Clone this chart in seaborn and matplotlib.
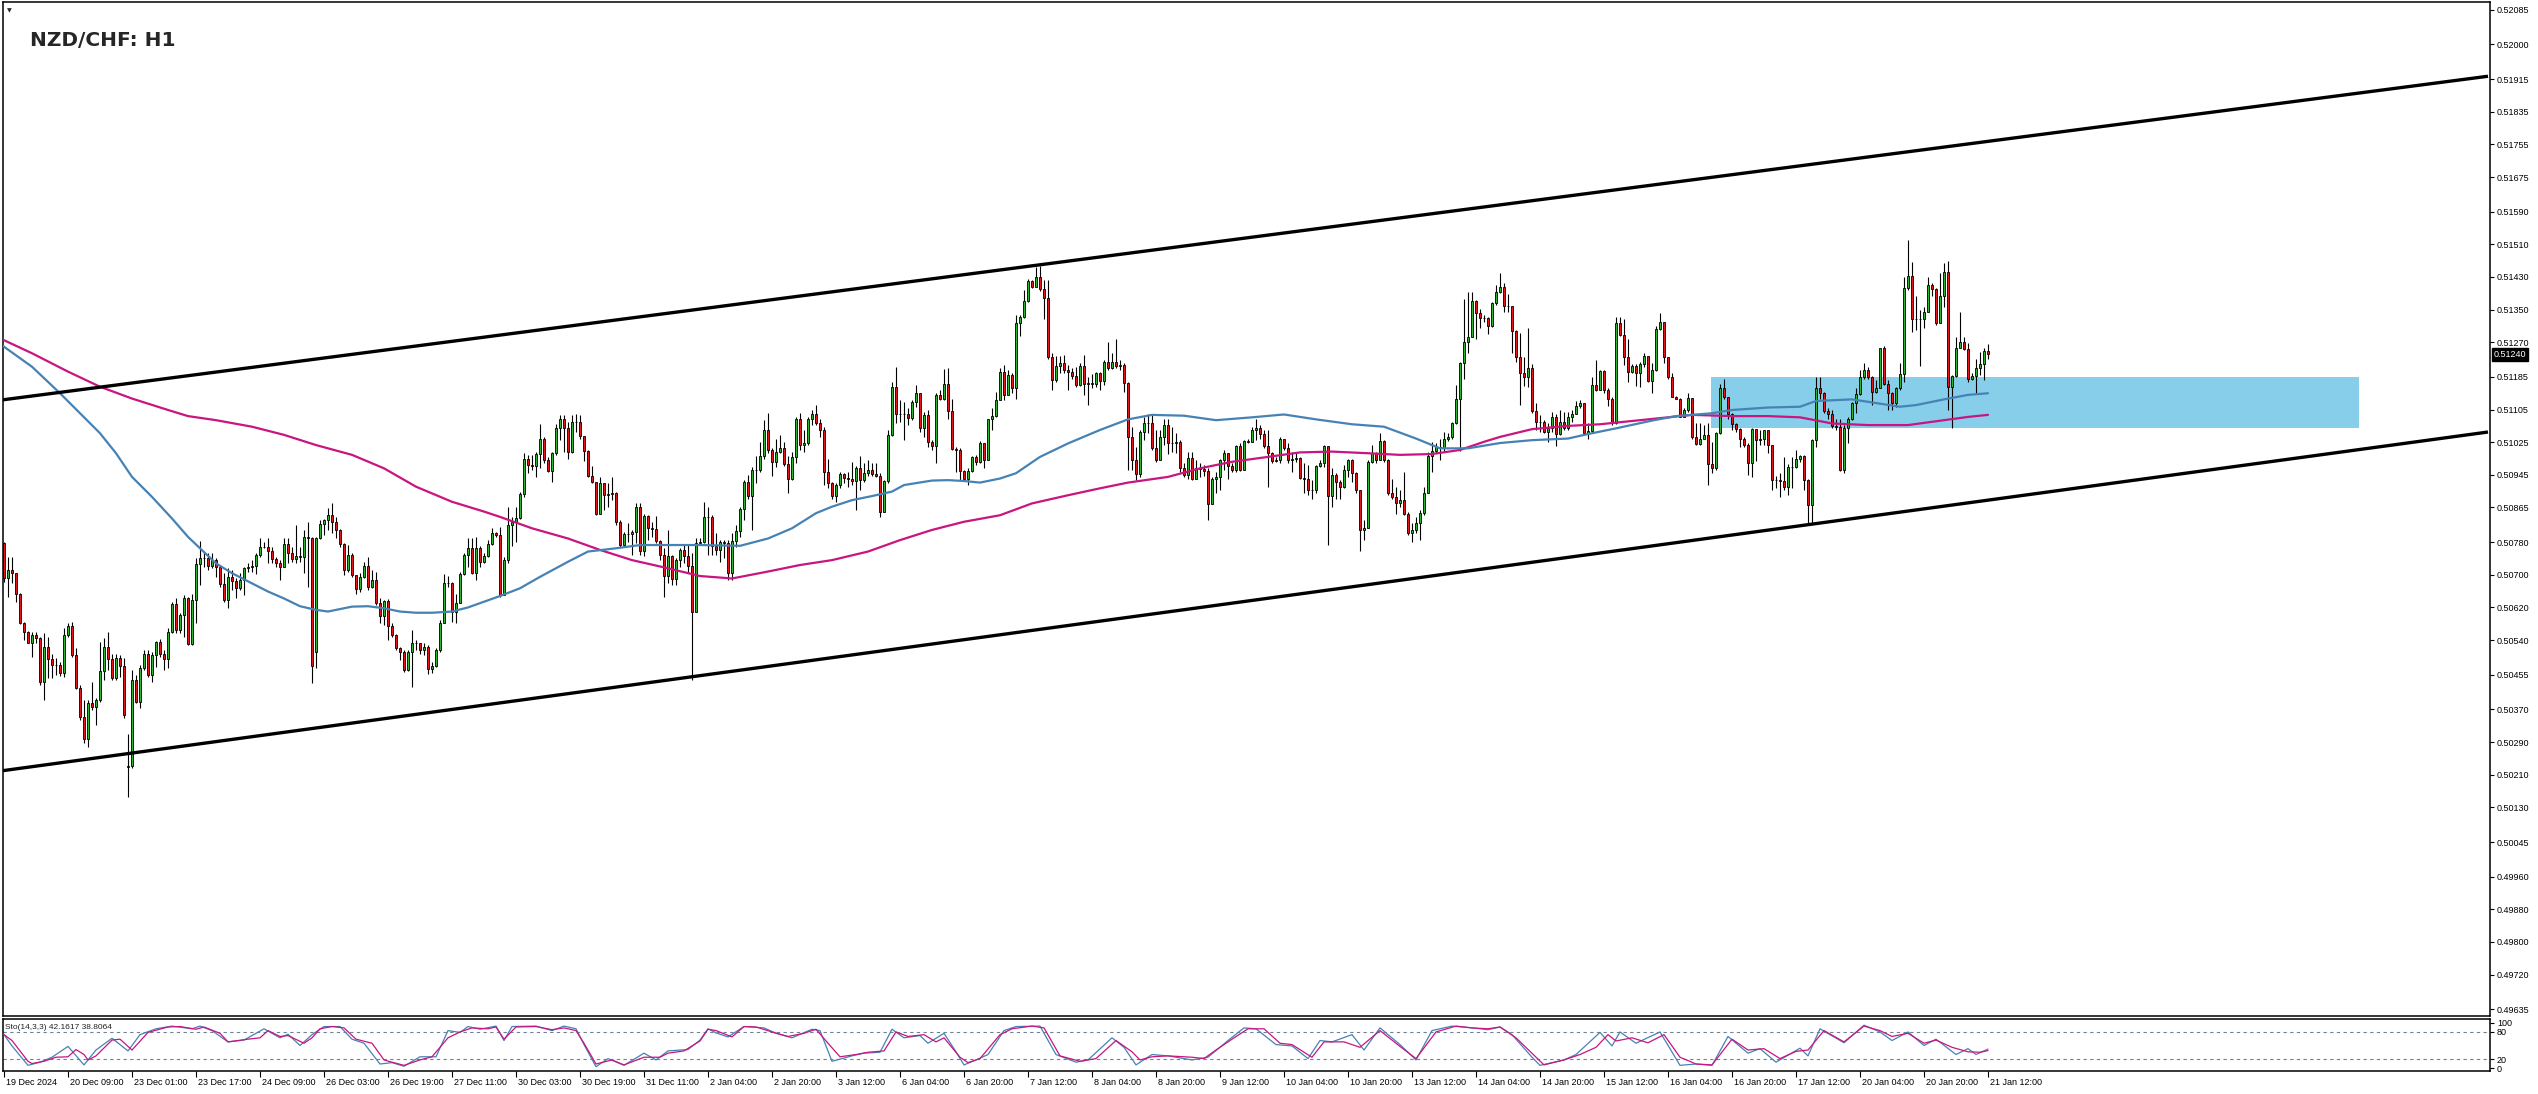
"""
NZD/CHF H1 chart: candles, two moving averages, price channel, demand zone
and a stochastic oscillator pane underneath.
"""

import numpy as np
import matplotlib
matplotlib.use("Agg")
import matplotlib.pyplot as plt
import matplotlib.transforms as mtransforms
from matplotlib.patches import Rectangle
import seaborn as sns

# ---------------------------------------------------------------- data
# prices are in units of 0.00001 (pipettes)
first_open = 50777
open_gaps = {31: 50230, 78: 50510}

closes = [
    50691, 50712, 50704, 50654, 50583, 50561, 50534, 50552, 50544, 50438,
    50524, 50493, 50480, 50479, 50460, 50552, 50574, 50503, 50423, 50352,
    50297, 50387, 50375, 50393, 50464, 50524, 50493, 50448, 50495, 50477,
    50356, 50232, 50442, 50389, 50472, 50505, 50454, 50503, 50536, 50505,
    50493, 50559, 50628, 50565, 50601, 50642, 50530, 50638, 50726, 50742,
    50742, 50722, 50736, 50720, 50677, 50638, 50694, 50686, 50667, 50687,
    50716, 50720, 50722, 50748, 50769, 50769, 50759, 50738, 50728, 50720,
    50775, 50753, 50738, 50746, 50744, 50792, 50790, 50477, 50789, 50824,
    50834, 50847, 50830, 50811, 50775, 50712, 50748, 50699, 50664, 50695,
    50722, 50671, 50687, 50630, 50599, 50636, 50574, 50552, 50520, 50512,
    50467, 50512, 50532, 50532, 50516, 50524, 50468, 50477, 50516, 50583,
    50679, 50679, 50610, 50632, 50701, 50748, 50765, 50704, 50765, 50732,
    50746, 50775, 50802, 50798, 50650, 50736, 50822, 50830, 50840, 50897,
    50983, 50969, 50967, 50995, 51034, 50981, 50954, 50998, 51061, 51083,
    51061, 51002, 51075, 51075, 51041, 51004, 50942, 50927, 50848, 50924,
    50896, 50898, 50900, 50830, 50773, 50799, 50799, 50806, 50865, 50759,
    50845, 50814, 50813, 50783, 50748, 50697, 50746, 50689, 50736, 50761,
    50747, 50722, 50610, 50779, 50780, 50842, 50842, 50771, 50762, 50780,
    50777, 50704, 50783, 50807, 50861, 50928, 50894, 50957, 50958, 50990,
    51055, 51006, 50976, 51002, 51010, 50971, 50934, 50988, 51081, 51018,
    51024, 51081, 51093, 51071, 51055, 50953, 50924, 50892, 50920, 50946,
    50938, 50936, 50931, 50963, 50932, 50950, 50957, 50947, 50942, 50855,
    50931, 51043, 51161, 51093, 51094, 51094, 51085, 51123, 51145, 51061,
    51092, 51026, 51016, 51141, 51132, 51167, 51102, 51008, 51007, 50954,
    50934, 50954, 50988, 50977, 51022, 50981, 51081, 51089, 51128, 51196,
    51141, 51190, 51159, 51316, 51331, 51372, 51420, 51406, 51429, 51400,
    51378, 51235, 51177, 51212, 51218, 51203, 51198, 51187, 51165, 51212,
    51168, 51169, 51167, 51194, 51175, 51221, 51208, 51221, 51212, 51214,
    51171, 51038, 50981, 50947, 51049, 51073, 51071, 51010, 50981, 51038,
    51067, 51022, 51022, 51026, 50961, 50945, 50987, 50936, 50961, 50960,
    50955, 50873, 50936, 50939, 50981, 50999, 50967, 50957, 51016, 50958,
    51028, 51026, 51055, 51061, 51045, 51016, 50998, 50979, 50981, 51032,
    51012, 50981, 50985, 50987, 50938, 50936, 50909, 50909, 50967, 50973,
    51016, 50893, 50945, 50928, 50914, 50957, 50981, 50950, 50908, 50810,
    50814, 50976, 50999, 50981, 51029, 50981, 50900, 50891, 50875, 50883,
    50849, 50803, 50810, 50826, 50851, 50900, 50991, 51004, 51014, 51012,
    51032, 51037, 51071, 51132, 51218, 51271, 51284, 51372, 51341, 51329,
    51329, 51310, 51365, 51392, 51406, 51359, 51359, 51298, 51235, 51195,
    51185, 51208, 51101, 51075, 51074, 51051, 51059, 51086, 51045, 51074,
    51059, 51086, 51094, 51114, 51122, 51048, 51053, 51165, 51154, 51199,
    51153, 51132, 51071, 51316, 51288, 51233, 51198, 51213, 51195, 51216,
    51237, 51175, 51202, 51302, 51319, 51235, 51184, 51137, 51132, 51087,
    51104, 51134, 51037, 51020, 51034, 51043, 50971, 50962, 51047, 51157,
    51135, 51093, 51069, 51057, 51034, 51018, 50973, 51057, 51030, 51032,
    51055, 51018, 50932, 50932, 50931, 50914, 50965, 50965, 50983, 50992,
    50932, 50871, 51030, 51159, 51145, 51102, 51094, 51065, 51063, 50957,
    51061, 51081, 51120, 51142, 51184, 51203, 51185, 51149, 51159, 51255,
    51167, 51146, 51120, 51157, 51192, 51404, 51432, 51328, 51326, 51328,
    51343, 51410, 51400, 51318, 51383, 51441, 51161, 51188, 51257, 51270,
    51253, 51181, 51187, 51206, 51216, 51248, 51240,
]

highs = [
    50781, 50744, 50744, 50697, 50656, 50585, 50562, 50561, 50561, 50548,
    50558, 50548, 50507, 50495, 50487, 50569, 50581, 50585, 50520, 50430,
    50393, 50393, 50438, 50397, 50536, 50544, 50561, 50507, 50507, 50503,
    50495, 50311, 50467, 50454, 50479, 50516, 50516, 50512, 50538, 50542,
    50516, 50569, 50634, 50642, 50606, 50650, 50646, 50654, 50740, 50784,
    50757, 50753, 50753, 50740, 50724, 50704, 50716, 50712, 50691, 50704,
    50720, 50728, 50736, 50753, 50789, 50781, 50789, 50769, 50744, 50736,
    50789, 50789, 50769, 50822, 50769, 50810, 50830, 50792, 50792, 50834,
    50838, 50863, 50875, 50842, 50813, 50777, 50773, 50753, 50699, 50704,
    50732, 50743, 50712, 50708, 50642, 50638, 50640, 50581, 50556, 50524,
    50516, 50516, 50565, 50540, 50534, 50532, 50528, 50487, 50520, 50589,
    50702, 50697, 50683, 50654, 50708, 50753, 50789, 50789, 50793, 50770,
    50753, 50785, 50814, 50806, 50818, 50744, 50867, 50842, 50867, 50904,
    50998, 50994, 50994, 51002, 51070, 51039, 50988, 51002, 51070, 51092,
    51092, 51075, 51092, 51093, 51092, 51039, 51007, 50967, 50928, 50940,
    50920, 50924, 50940, 50904, 50834, 50806, 50826, 50810, 50875, 50875,
    50849, 50847, 50830, 50843, 50785, 50765, 50810, 50748, 50740, 50765,
    50773, 50773, 50753, 50789, 50789, 50879, 50867, 50847, 50802, 50785,
    50785, 50785, 50802, 50822, 50867, 50932, 50945, 50965, 50990, 51026,
    51079, 51096, 51010, 51034, 51043, 51026, 50990, 51002, 51088, 51096,
    51055, 51088, 51104, 51116, 51083, 51063, 50985, 50928, 50924, 50953,
    50950, 50953, 50977, 50967, 50990, 50973, 50981, 50973, 50973, 50949,
    50932, 51055, 51173, 51210, 51128, 51124, 51108, 51128, 51165, 51145,
    51100, 51104, 51030, 51146, 51153, 51204, 51206, 51130, 51014, 51010,
    50957, 50961, 50991, 50994, 51029, 51024, 51083, 51110, 51149, 51208,
    51214, 51202, 51195, 51337, 51337, 51398, 51424, 51422, 51455, 51457,
    51422, 51422, 51243, 51236, 51236, 51239, 51214, 51206, 51210, 51218,
    51239, 51185, 51192, 51198, 51198, 51226, 51271, 51243, 51279, 51226,
    51220, 51173, 51063, 51014, 51055, 51087, 51094, 51094, 51055, 51055,
    51083, 51083, 51063, 51047, 51030, 50973, 51002, 51002, 50981, 50973,
    50969, 50961, 50940, 50953, 50983, 51006, 50999, 50973, 51018, 51022,
    51030, 51032, 51063, 51081, 51067, 51055, 51055, 51000, 50989, 51037,
    51034, 51022, 51002, 50998, 50989, 50973, 50969, 50932, 50969, 50981,
    51018, 51014, 50961, 50949, 50932, 50969, 50983, 50983, 50953, 50908,
    50834, 50981, 51018, 51002, 51047, 51030, 50983, 50936, 50916, 50908,
    50953, 50855, 50826, 50842, 50860, 50916, 51000, 51026, 51022, 51034,
    51051, 51047, 51075, 51165, 51222, 51375, 51394, 51394, 51373, 51351,
    51337, 51333, 51369, 51410, 51439, 51416, 51388, 51359, 51300, 51293,
    51235, 51304, 51217, 51120, 51092, 51079, 51071, 51100, 51094, 51104,
    51100, 51100, 51104, 51127, 51128, 51122, 51071, 51186, 51226, 51202,
    51203, 51157, 51135, 51333, 51331, 51328, 51279, 51217, 51217, 51222,
    51243, 51237, 51218, 51310, 51341, 51320, 51235, 51194, 51138, 51134,
    51108, 51145, 51132, 51071, 51071, 51067, 51071, 51026, 51051, 51167,
    51179, 51137, 51097, 51071, 51059, 51038, 51022, 51059, 51055, 51055,
    51056, 51056, 51018, 50942, 50949, 50988, 50971, 50988, 51007, 50994,
    50994, 50934, 51032, 51185, 51185, 51149, 51108, 51104, 51083, 51083,
    51067, 51086, 51124, 51157, 51203, 51218, 51210, 51187, 51177, 51257,
    51261, 51177, 51149, 51161, 51220, 51431, 51520, 51467, 51383, 51349,
    51357, 51431, 51416, 51402, 51440, 51465, 51470, 51190, 51284, 51345,
    51284, 51269, 51194, 51230, 51247, 51257, 51265,
]

lows = [
    50683, 50646, 50679, 50634, 50579, 50540, 50532, 50499, 50532, 50430,
    50393, 50446, 50446, 50454, 50452, 50450, 50548, 50499, 50419, 50344,
    50287, 50277, 50369, 50332, 50389, 50442, 50467, 50442, 50442, 50450,
    50348, 50155, 50226, 50385, 50373, 50467, 50450, 50438, 50475, 50499,
    50467, 50471, 50557, 50557, 50557, 50548, 50528, 50528, 50583, 50675,
    50720, 50712, 50716, 50695, 50671, 50634, 50618, 50663, 50642, 50663,
    50650, 50708, 50708, 50702, 50744, 50765, 50728, 50728, 50720, 50687,
    50720, 50728, 50732, 50728, 50732, 50704, 50671, 50434, 50471, 50787,
    50797, 50810, 50802, 50789, 50769, 50699, 50708, 50695, 50654, 50659,
    50691, 50663, 50667, 50626, 50581, 50577, 50540, 50547, 50516, 50491,
    50462, 50465, 50426, 50516, 50507, 50503, 50458, 50460, 50475, 50512,
    50585, 50671, 50585, 50583, 50650, 50699, 50720, 50702, 50687, 50720,
    50728, 50744, 50773, 50793, 50646, 50650, 50728, 50771, 50781, 50838,
    50891, 50949, 50957, 50940, 50961, 50973, 50953, 50928, 50994, 51030,
    51002, 50985, 50998, 51051, 51034, 50980, 50940, 50924, 50847, 50875,
    50859, 50867, 50883, 50822, 50769, 50773, 50781, 50748, 50777, 50748,
    50746, 50785, 50793, 50777, 50736, 50646, 50679, 50675, 50675, 50720,
    50728, 50704, 50442, 50618, 50777, 50777, 50748, 50748, 50748, 50732,
    50740, 50687, 50687, 50769, 50793, 50834, 50887, 50810, 50924, 50953,
    50985, 50998, 50942, 50965, 50998, 50967, 50900, 50932, 50973, 51006,
    51002, 51018, 51067, 51067, 51039, 50920, 50912, 50887, 50879, 50912,
    50924, 50914, 50920, 50860, 50908, 50928, 50942, 50942, 50940, 50842,
    50871, 50924, 51040, 51071, 51075, 51030, 51067, 51079, 51112, 51051,
    51039, 51014, 51006, 50973, 51128, 51128, 51083, 51006, 50953, 50932,
    50931, 50920, 50953, 50969, 50973, 50961, 50981, 51056, 51088, 51128,
    51128, 51141, 51145, 51132, 51285, 51329, 51368, 51402, 51406, 51396,
    51326, 51230, 51154, 51173, 51194, 51194, 51154, 51181, 51161, 51163,
    51141, 51116, 51157, 51161, 51153, 51165, 51202, 51204, 51206, 51202,
    51149, 50957, 50957, 50932, 50939, 51030, 51047, 51006, 50977, 50981,
    51018, 50996, 51002, 50999, 50953, 50940, 50936, 50932, 50934, 50940,
    50942, 50834, 50873, 50900, 50908, 50958, 50936, 50953, 50953, 50955,
    50957, 51022, 51043, 51030, 51032, 51010, 50914, 50973, 50977, 50975,
    51006, 50973, 50953, 50977, 50936, 50900, 50895, 50885, 50900, 50965,
    50965, 50773, 50867, 50885, 50885, 50912, 50940, 50928, 50900, 50759,
    50785, 50841, 50973, 50973, 50981, 50977, 50895, 50885, 50850, 50867,
    50846, 50797, 50781, 50802, 50785, 50846, 50900, 50953, 50999, 50981,
    51002, 51029, 51034, 51069, 51004, 51181, 51243, 51284, 51277, 51304,
    51320, 51290, 51308, 51361, 51390, 51345, 51345, 51243, 51222, 51116,
    51163, 51161, 51097, 51056, 51051, 51047, 51026, 51051, 51016, 51043,
    51055, 51055, 51075, 51094, 51110, 51047, 51032, 51048, 51151, 51153,
    51146, 51114, 51067, 51069, 51285, 51214, 51173, 51194, 51163, 51161,
    51210, 51173, 51145, 51200, 51300, 51220, 51181, 51135, 51130, 51086,
    51086, 51100, 51034, 51018, 51018, 51032, 50920, 50949, 50958, 51045,
    51130, 51083, 51055, 51051, 51014, 51014, 50945, 50940, 50980, 51018,
    51018, 50998, 50909, 50912, 50890, 50909, 50895, 50912, 50961, 50977,
    50909, 50828, 50826, 51014, 51132, 51096, 51083, 51059, 51055, 50955,
    50949, 51022, 51079, 51096, 51141, 51181, 51181, 51116, 51146, 51159,
    51165, 51104, 51104, 51112, 51154, 51173, 51398, 51296, 51300, 51212,
    51306, 51345, 51383, 51312, 51318, 51357, 51104, 51059, 51186, 51255,
    51251, 51173, 51177, 51146, 51190, 51177, 51228,
]

# moving averages, sampled as (bar, price)
ma_fast = [
    (-1, 51268), (0, 51259), (7, 51210), (14, 51145), (19, 51096), (24, 51047),
    (28, 50998), (32, 50940), (37, 50891), (42, 50838), (46, 50793), (49, 50765),
    (53, 50728), (57, 50704), (62, 50679), (66, 50659), (70, 50642), (74, 50623),
    (78, 50614), (81, 50610), (87, 50622), (91, 50623), (95, 50618), (99, 50610),
    (103, 50607), (107, 50607), (112, 50610), (116, 50620), (120, 50634),
    (124, 50648), (129, 50667), (134, 50695), (141, 50732), (146, 50757),
    (153, 50765), (159, 50773), (166, 50773), (174, 50773), (184, 50771),
    (191, 50789), (197, 50814), (203, 50851), (207, 50867), (212, 50883),
    (217, 50893), (222, 50904), (225, 50920), (232, 50931), (236, 50932),
    (240, 50930), (244, 50926), (249, 50936), (253, 50949), (259, 50989),
    (266, 51022), (274, 51055), (281, 51081), (287, 51092), (295, 51090),
    (303, 51079), (312, 51086), (320, 51093), (328, 51081), (337, 51069),
    (345, 51063), (353, 51034), (359, 51010), (366, 51010), (374, 51023),
    (382, 51030), (391, 51034), (396, 51045), (403, 51059), (412, 51078),
    (418, 51089), (427, 51096), (432, 51104), (441, 51110), (449, 51112),
    (453, 51126), (462, 51130), (466, 51124), (474, 51112), (478, 51116),
    (485, 51130), (491, 51141), (496, 51145),
]
ma_slow = [
    (-1, 51281), (0, 51275), (7, 51243), (16, 51198), (24, 51161), (32, 51132),
    (41, 51104), (46, 51089), (53, 51079), (62, 51063), (70, 51043), (78, 51018),
    (87, 50994), (95, 50961), (103, 50916), (112, 50879), (120, 50855),
    (124, 50842), (132, 50814), (141, 50789), (149, 50761), (157, 50736),
    (166, 50716), (174, 50697), (182, 50691), (191, 50708), (199, 50724),
    (207, 50736), (216, 50757), (224, 50785), (232, 50810), (240, 50830),
    (249, 50846), (257, 50875), (266, 50895), (274, 50912), (281, 50926),
    (291, 50940), (299, 50961), (307, 50977), (316, 50989), (324, 51000),
    (332, 51002), (341, 50998), (349, 50994), (357, 50996), (364, 51006),
    (370, 51026), (374, 51038), (382, 51057), (391, 51065), (399, 51069),
    (407, 51077), (416, 51086), (422, 51092), (432, 51089), (441, 51089),
    (449, 51086), (457, 51071), (466, 51067), (476, 51067), (482, 51075),
    (491, 51087), (496, 51092),
]

# stochastic (14,3,3), sampled as (bar, value)
stoch_k = [
    (0, 74), (2, 49), (6, 6), (9, 13), (12, 24), (16, 48), (20, 7), (23, 40),
    (27, 66), (31, 38), (34, 74), (38, 87), (42, 93), (47, 87), (49, 93),
    (52, 83), (56, 58), (60, 62), (65, 87), (69, 67), (71, 75), (74, 50),
    (77, 74), (80, 92), (84, 92), (87, 64), (90, 55), (94, 9), (97, 12),
    (100, 4), (104, 25), (108, 25), (111, 83), (114, 79), (116, 92), (119, 86),
    (123, 93), (125, 61), (127, 92), (133, 93), (137, 83), (140, 93), (143, 87),
    (145, 52), (148, 3), (151, 21), (155, 6), (160, 33), (163, 18), (166, 38),
    (171, 41), (174, 62), (176, 87), (178, 78), (181, 69), (185, 92), (190, 89),
    (193, 77), (197, 67), (202, 86), (204, 83), (207, 15), (212, 27), (215, 33),
    (219, 35), (222, 86), (225, 67), (229, 72), (231, 55), (235, 77), (238, 36),
    (240, 7), (243, 18), (246, 30), (250, 83), (253, 92), (259, 93), (263, 30),
    (268, 13), (271, 18), (277, 67), (280, 46), (283, 7), (287, 30), (291, 27),
    (297, 18), (301, 24), (306, 61), (310, 89), (313, 87), (318, 52), (322, 49),
    (326, 21), (329, 61), (332, 58), (337, 74), (340, 40), (344, 89), (349, 52),
    (353, 18), (357, 83), (362, 93), (367, 89), (371, 85), (374, 91), (377, 74),
    (382, 24), (384, 6), (390, 18), (393, 30), (399, 79), (402, 49), (404, 80),
    (408, 55), (414, 80), (419, 6), (423, 9), (427, 6), (431, 70), (436, 33),
    (439, 43), (443, 13), (449, 44), (451, 27), (454, 87), (460, 56), (465, 95),
    (469, 80), (472, 61), (476, 80), (480, 50), (483, 64), (488, 30), (491, 43),
    (493, 30), (496, 42.16),
]
stoch_d = [
    (0, 74), (2, 61), (6, 15), (7, 10), (10, 15), (13, 24), (16, 25), (18, 41),
    (20, 30), (21, 18), (23, 27), (27, 62), (29, 64), (32, 40), (36, 79),
    (41, 91), (44, 92), (48, 86), (50, 91), (54, 77), (56, 58), (61, 64),
    (64, 67), (66, 83), (69, 70), (71, 72), (75, 55), (77, 67), (79, 87),
    (82, 92), (85, 89), (88, 64), (92, 55), (95, 18), (97, 13), (100, 6),
    (104, 18), (107, 25), (111, 67), (114, 80), (117, 89), (121, 87), (123, 91),
    (125, 64), (128, 91), (133, 92), (137, 85), (140, 89), (143, 83), (145, 55),
    (148, 9), (152, 18), (155, 7), (160, 24), (164, 24), (166, 33), (170, 38),
    (174, 60), (176, 86), (178, 83), (182, 69), (185, 92), (188, 91), (192, 80),
    (196, 70), (200, 77), (203, 86), (206, 55), (209, 25), (213, 30), (216, 35),
    (220, 38), (223, 80), (226, 70), (230, 74), (233, 58), (235, 67), (239, 24),
    (241, 12), (244, 21), (249, 74), (252, 87), (257, 93), (260, 89), (264, 27),
    (269, 15), (273, 21), (278, 61), (282, 36), (284, 18), (287, 25), (291, 27),
    (297, 24), (300, 21), (303, 40), (307, 64), (311, 87), (315, 87), (319, 55),
    (322, 52), (327, 24), (330, 58), (335, 58), (339, 46), (344, 83), (349, 48),
    (353, 21), (358, 80), (363, 93), (367, 89), (371, 87), (374, 91), (378, 67),
    (383, 24), (385, 7), (390, 18), (394, 30), (398, 46), (401, 74), (403, 60),
    (407, 67), (411, 56), (415, 74), (419, 24), (423, 9), (427, 7), (432, 64),
    (436, 40), (440, 43), (444, 21), (448, 37), (451, 40), (455, 83), (460, 58),
    (465, 93), (469, 83), (472, 70), (476, 77), (480, 55), (483, 62), (487, 46),
    (491, 36), (494, 35), (496, 38.81),
]
stoch_levels = [20, 80]
stoch_caption = "Sto(14,3,3) 42.1617 38.8064"

# drawn objects: channel anchors (bar, price) and the blue zone
channel_upper = [(-1, 51128), (621, 51922)]
channel_lower = [(-1, 50219), (621, 51050)]
zone = {"start": 426.75, "end": 588.75, "low": 51060, "high": 51185}

current_price = "0.51240"
price_ticks = [
    "0.52085", "0.52000", "0.51915", "0.51835", "0.51755", "0.51675",
    "0.51590", "0.51510", "0.51430", "0.51350", "0.51270", "0.51185",
    "0.51105", "0.51025", "0.50945", "0.50865", "0.50780", "0.50700",
    "0.50620", "0.50540", "0.50455", "0.50370", "0.50290", "0.50210",
    "0.50130", "0.50045", "0.49960", "0.49880", "0.49800", "0.49720",
    "0.49635",
]
time_labels = [
    "19 Dec 2024", "20 Dec 09:00", "23 Dec 01:00", "23 Dec 17:00",
    "24 Dec 09:00", "26 Dec 03:00", "26 Dec 19:00", "27 Dec 11:00",
    "30 Dec 03:00", "30 Dec 19:00", "31 Dec 11:00", "2 Jan 04:00",
    "2 Jan 20:00", "3 Jan 12:00", "6 Jan 04:00", "6 Jan 20:00",
    "7 Jan 12:00", "8 Jan 04:00", "8 Jan 20:00", "9 Jan 12:00",
    "10 Jan 04:00", "10 Jan 20:00", "13 Jan 12:00", "14 Jan 04:00",
    "14 Jan 20:00", "15 Jan 12:00", "16 Jan 04:00", "16 Jan 20:00",
    "17 Jan 12:00", "20 Jan 04:00", "20 Jan 20:00", "21 Jan 12:00",
]
bars_per_label = 16

# ---------------------------------------------------------------- prep
PIP = 1e-5
c = np.array(closes) * PIP
o = np.r_[first_open, closes[:-1]].astype(float)
for k, v in open_gaps.items():
    o[k] = v
o = o * PIP
h = np.maximum(np.array(highs) * PIP, np.maximum(o, c))
l = np.minimum(np.array(lows) * PIP, np.minimum(o, c))
x = np.arange(len(c))

BULL = "#2FB42F"
BEAR = "#E5161B"
BLUE = "#4682B4"
MAGENTA = "#C8157F"

sns.set_theme(style="white")
plt.rcParams["font.family"] = ["Liberation Sans", "DejaVu Sans"]

W, H = 2538, 1094
fig = plt.figure(figsize=(W / 100, H / 100), dpi=100)
fig.patch.set_facecolor("white")

ax = fig.add_axes([3 / W, 1 - 1016 / H, (2490 - 3) / W, (1016 - 2) / H])
axs = fig.add_axes([3 / W, 1 - 1071 / H, (2490 - 3) / W, (1071 - 1019) / H])

XLIM = (-0.25, 621.5)

# ---------------------------------------------------------------- main pane
ax.add_patch(Rectangle((zone["start"], zone["low"] * PIP),
                       zone["end"] - zone["start"],
                       (zone["high"] - zone["low"]) * PIP,
                       facecolor="#87CEEB", edgecolor="none", zorder=1))

ax.vlines(x, l, h, color="black", linewidth=0.8, zorder=3)
up = c >= o
for mask, col in ((up, BULL), (~up, BEAR)):
    ax.bar(x[mask], (c - o)[mask], bottom=o[mask], width=0.72,
           color=col, edgecolor="black", linewidth=0.6, zorder=4)

for series, col in ((ma_slow, MAGENTA), (ma_fast, BLUE)):
    bx, by = zip(*series)
    sns.lineplot(x=list(bx), y=np.array(by) * PIP, ax=ax, color=col,
                 linewidth=1.6, estimator=None, sort=False, zorder=5)

for line in (channel_upper, channel_lower):
    lx, ly = zip(*line)
    ax.plot(lx, np.array(ly) * PIP, color="black", linewidth=2.4,
            solid_capstyle="butt", zorder=6)

ax.set_xlim(*XLIM)
ax.set_ylim(0.496186, 0.52104)
ax.set_xticks([])
ax.yaxis.tick_right()
ax.set_yticks([float(t) for t in price_ticks])
ax.set_yticklabels(price_ticks)
ax.tick_params(axis="y", direction="out", length=3, width=0.8, pad=2,
               labelsize=6.5, colors="black", right=True, left=False)
ax.set_xlabel("")
ax.set_ylabel("")
for sp in ax.spines.values():
    sp.set_color("black")
    sp.set_linewidth(1.1)

# current price badge on the axis
badge = mtransforms.blended_transform_factory(ax.transAxes, ax.transData)
ax.text(1.0 + 4 / 2487, float(current_price), current_price, transform=badge,
        ha="left", va="center", fontsize=6.5, color="white", zorder=10,
        bbox=dict(boxstyle="square,pad=0.18", facecolor="black",
                  edgecolor="black"), clip_on=False)

# ---------------------------------------------------------------- stochastic
for lvl in stoch_levels:
    axs.axhline(lvl, color="#6F8294", linewidth=0.8, linestyle=(0, (3, 3)),
                zorder=1)
for series, col in ((stoch_k, BLUE), (stoch_d, MAGENTA)):
    sx, sy = zip(*series)
    sns.lineplot(x=list(sx), y=list(sy), ax=axs, color=col, linewidth=0.9,
                 estimator=None, sort=False, zorder=3)

axs.set_xlim(*XLIM)
axs.set_ylim(-6.5, 108.7)
axs.yaxis.tick_right()
axs.set_yticks([0, 20, 80, 100])
axs.set_yticklabels(["0", "20", "80", "100"])
axs.tick_params(axis="y", direction="out", length=3, width=0.8, pad=2,
                labelsize=6.5, colors="black", right=True, left=False)
label_bars = np.arange(len(time_labels)) * bars_per_label
axs.set_xticks(label_bars)
axs.set_xticklabels(time_labels)
axs.tick_params(axis="x", direction="out", length=4, width=0.8, pad=1,
                labelsize=6.5, colors="black", bottom=True)
shift = mtransforms.ScaledTranslation(2 / 100, 0, fig.dpi_scale_trans)
for lab in axs.get_xticklabels():
    lab.set_horizontalalignment("left")
    lab.set_transform(lab.get_transform() + shift)
axs.set_xlabel("")
axs.set_ylabel("")
for sp in axs.spines.values():
    sp.set_color("black")
    sp.set_linewidth(1.1)
axs.text(0.001, 0.84, stoch_caption, transform=axs.transAxes, ha="left",
         va="center", fontsize=6, color="#222222", zorder=5)

# ---------------------------------------------------------------- title
fig.text(30 / W, 1 - 45.5 / H, "NZD/CHF: H1", fontsize=14.5,
         fontweight="bold", family="DejaVu Sans", va="baseline", ha="left")
fig.text(9 / W, 1 - 10.5 / H, "\u25BC", fontsize=4.5, family="DejaVu Sans",
         ha="center", va="center")

fig.savefig("out.png", dpi=100, facecolor="white")
